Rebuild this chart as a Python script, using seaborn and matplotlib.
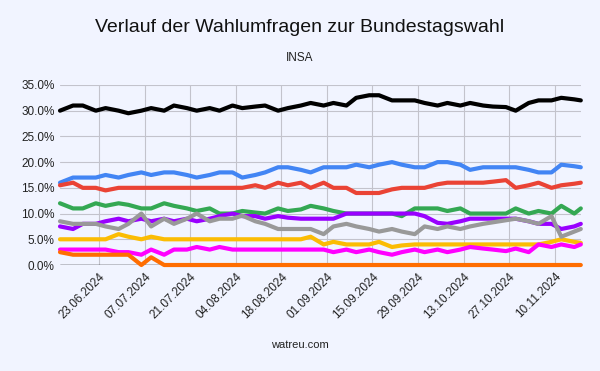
import matplotlib
matplotlib.use("Agg")
import matplotlib.pyplot as plt
import matplotlib.dates as mdates
import pandas as pd
import seaborn as sns

dates = ["11.06.2024", "15.06.2024", "18.06.2024", "22.06.2024", "25.06.2024", "29.06.2024",
         "02.07.2024", "06.07.2024", "09.07.2024", "13.07.2024", "16.07.2024", "20.07.2024",
         "23.07.2024", "27.07.2024", "30.07.2024", "03.08.2024", "06.08.2024", "10.08.2024",
         "13.08.2024", "17.08.2024", "20.08.2024", "24.08.2024", "27.08.2024", "31.08.2024",
         "03.09.2024", "07.09.2024", "10.09.2024", "14.09.2024", "17.09.2024", "21.09.2024",
         "24.09.2024", "28.09.2024", "01.10.2024", "05.10.2024", "08.10.2024", "12.10.2024",
         "15.10.2024", "19.10.2024", "22.10.2024", "26.10.2024", "29.10.2024", "02.11.2024",
         "05.11.2024", "09.11.2024", "12.11.2024", "16.11.2024", "18.11.2024"]

cdu = [30, 31, 31, 30, 30.5, 30, 29.5, 30, 30.5, 30, 31, 30.5,
       30, 30.5, 30, 31, 30.5, 30.8, 31, 30, 30.5, 31, 31.5, 31,
       31.5, 31, 32.5, 33, 33, 32, 32, 32,
       31.5, 31, 31.5, 31, 31.5, 31, 30.8, 30.7, 30,
       31.5, 32, 32, 32.5, 32.2, 32]
afd = [16, 17, 17, 17, 17.5, 17, 17.5, 18, 17.5, 18, 18, 17.5,
       17, 17.5, 18, 18, 17, 17.5, 18, 19, 19, 18.5, 18, 19,
       19, 19, 19.5, 19, 19.5, 20, 19.5, 19,
       19, 20, 20, 19.5, 18.5, 19, 19, 19, 19,
       18.5, 18, 18, 19.5, 19.2, 19]
spd = [15.5, 16, 15, 15, 14.5, 15, 15, 15, 15, 15, 15, 15,
       15, 15, 15, 15, 15, 15.5, 15, 16, 15.5, 16, 15, 16,
       15, 15, 14, 14, 14, 14.7, 15, 15,
       15, 15.7, 16, 16, 16, 16, 16.2, 16.5, 15,
       15.5, 16, 15, 15.5, 15.8, 16]
gruene = [12, 11, 11, 12, 11.5, 12, 11.7, 11, 11, 12, 11.5, 11,
          10.5, 11, 10, 10, 10.5, 10.2, 10, 11, 10.5, 10.8, 11.5, 11,
          10.5, 10, 10, 10, 10, 10, 9.5, 11,
          11, 11, 10.5, 11, 10, 10, 10, 10, 11,
          10, 10.5, 10, 11.5, 10, 11]
bsw = [7.5, 7, 8, 8, 8.5, 9, 8.5, 9, 8.5, 9, 8.5, 9,
       8.5, 9, 9.5, 10, 9.5, 9.5, 9, 9.5, 9.2, 9, 9, 9,
       9, 10, 10, 10, 10, 10, 10, 10,
       9.5, 8.2, 8, 8.5, 9, 9, 9, 9, 9,
       8.5, 8, 8, 7, 7.5, 8]
fdp = [5, 5, 5, 5, 5, 6, 5.5, 5, 5.5, 5, 5, 5,
       5, 5, 5, 5, 5, 5, 5, 5, 5, 5, 5.5, 4,
       4.5, 4, 4, 4, 4.5, 3.5, 3.8, 4,
       4, 4, 4, 4, 4, 4, 4, 4, 4,
       4, 4, 4.5, 5, 4.5, 4.3]
linke = [3, 3, 3, 3, 3, 2.5, 2.5, 2, 3, 2, 3, 3,
         3.5, 3, 3.5, 3, 3, 3, 3, 3, 3, 3, 3, 3,
         2.5, 3, 2.5, 3, 2.5, 2, 2.5, 3,
         2.5, 3, 2.5, 3, 3.5, 3.2, 3, 2.7, 3.2,
         2.5, 4, 3.5, 4, 3.5, 4]
fw = [2.5, 2, 2, 2, 2, 2, 2, 0, 1.5, 0, 0, 0] + [0] * 35
sonstige = [8.5, 8, 8, 8, 7.5, 7, 8, 10, 7.5, 9, 8, 9,
            10, 8.5, 9, 9, 9.6, 8.5, 8, 7, 7, 7, 7, 6,
            7.5, 8, 7.5, 7, 6.5, 7, 6.5, 6,
            7.5, 7, 7.5, 7, 7.5, 8, 8.3, 8.7, 9,
            8.5, 8, 9.5, 5.5, 6.5, 7]

parties = ["CDU/CSU", "AfD", "SPD", "Grüne", "BSW", "FDP", "Linke", "FW", "Sonstige"]
series = [cdu, afd, spd, gruene, bsw, fdp, linke, fw, sonstige]
colors = ["#000000", "#4285F4", "#EA4335", "#34A853", "#9900FF",
          "#FBBC04", "#FF00FF", "#FF6D01", "#999999"]

bg = "#F1F4FF"
sns.set_style("whitegrid", {"axes.facecolor": bg, "figure.facecolor": bg,
                            "grid.color": "#C3C3CC"})
plt.rcParams["font.family"] = ["Liberation Sans", "DejaVu Sans"]

polls = pd.DataFrame({
    "Datum": pd.to_datetime(dates * len(parties), format="%d.%m.%Y"),
    "Partei": [p for p in parties for _ in dates],
    "Wert": [v for s in series for v in s],
})

fig = plt.figure(figsize=(6, 3.71), dpi=100)
ax = fig.add_axes([0.1, 0.2857, 0.868, 0.4853])

sns.lineplot(data=polls, x="Datum", y="Wert", hue="Partei", hue_order=parties,
             palette=dict(zip(parties, colors)), linewidth=3, legend=False,
             ax=ax, clip_on=False, zorder=3)

ax.axhline(0, color="black", lw=1, zorder=2)
ax.set_xlim(pd.Timestamp("2024-06-11"), pd.Timestamp("2024-11-18"))
ax.set_ylim(0, 35)
ax.set_yticks(range(0, 36, 5))
ax.set_yticklabels([f"{v:.1f}%" for v in range(0, 36, 5)])
ticks = pd.date_range("2024-06-23", "2024-11-10", freq="14D")
ax.set_xticks(ticks)
ax.xaxis.set_major_formatter(mdates.DateFormatter("%d.%m.%Y"))
plt.setp(ax.get_xticklabels(), rotation=45, ha="right", rotation_mode="anchor")
ax.tick_params(axis="both", length=0, labelsize=8.5, colors="#222222", pad=4)
ax.grid(True, lw=0.8)
ax.set_xlabel("")
ax.set_ylabel("")
for s in ax.spines.values():
    s.set_visible(False)

fig.text(0.5, 1 - 28 / 371, "Verlauf der Wahlumfragen zur Bundestagswahl",
         ha="center", va="center", fontsize=14, color="#111111")
fig.text(0.5, 1 - 58 / 371, "INSA", ha="center", va="center", fontsize=8.5,
         color="#222222")
fig.text(0.5, 1 - 345 / 371, "watreu.com", ha="center", va="center", fontsize=8,
         color="#222222")

fig.savefig("out.png", dpi=100, facecolor=bg)
